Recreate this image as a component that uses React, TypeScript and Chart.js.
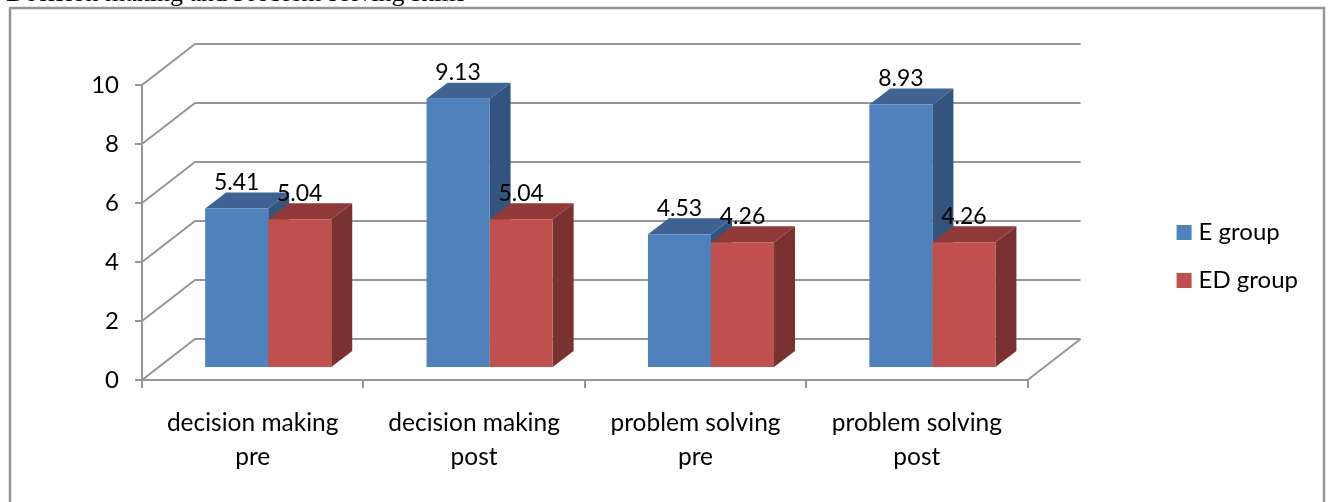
import { useEffect, useRef } from "react";
import { Chart, registerables } from "chart.js";

Chart.register(...registerables);

const caption = "Decision making and Problem solving skills";
const categories = [
  ["decision making", "pre"],
  ["decision making", "post"],
  ["problem solving", "pre"],
  ["problem solving", "post"],
];
const eGroup = [5.41, 9.13, 4.53, 8.93];
const edGroup = [5.04, 5.04, 4.26, 4.26];
const yTicks = [0, 2, 4, 6, 8, 10];

const BLUE = "#4f81bd";
const BLUE_TOP = "#3f6292";
const BLUE_SIDE = "#33547c";
const RED = "#c0504d";
const RED_TOP = "#8f3a38";
const RED_SIDE = "#7a3230";
const GRID = "#969696";
const FONT = "Lato, 'Noto Sans', sans-serif";

// Projection of the pseudo-3D box: wall depth, bar plane offset, bar depth.
const WALL = { dx: 53, dy: -41 };
const PLANE = { dx: 15.5, dy: -12 };
const DEPTH = { dx: 21, dy: -16 };

function poly(ctx: CanvasRenderingContext2D, pts: number[][], fill: string) {
  ctx.fillStyle = fill;
  ctx.beginPath();
  pts.forEach(([x, y], i) => (i ? ctx.lineTo(x, y) : ctx.moveTo(x, y)));
  ctx.closePath();
  ctx.fill();
}

const frame3d = {
  id: "frame3d",
  beforeDraw(chart: any) {
    const { ctx, width, height } = chart;
    const { left, right } = chart.chartArea;
    const y = chart.scales.y;
    ctx.save();
    ctx.fillStyle = "#ffffff";
    ctx.fillRect(0, 0, width, height);

    ctx.fillStyle = "#000000";
    ctx.font = "26px 'Liberation Serif', serif";
    ctx.textBaseline = "alphabetic";
    ctx.fillText(caption, 6, 1);

    // Outer box runs off the bottom edge of the page.
    ctx.strokeStyle = GRID;
    ctx.lineWidth = 2.5;
    ctx.strokeRect(10, 8, 1314, 520);

    // Side wall diagonals and back wall gridlines.
    ctx.lineWidth = 2;
    yTicks.forEach((v) => {
      const py = y.getPixelForValue(v);
      ctx.beginPath();
      ctx.moveTo(left, py);
      ctx.lineTo(left + WALL.dx, py + WALL.dy);
      ctx.lineTo(right + WALL.dx, py + WALL.dy);
      ctx.stroke();
    });
    // Floor edge on the right.
    const y0 = y.getPixelForValue(0);
    ctx.beginPath();
    ctx.moveTo(right, y0);
    ctx.lineTo(right + WALL.dx, y0 + WALL.dy);
    ctx.stroke();
    ctx.restore();
  },
  beforeDatasetsDraw(chart: any) {
    const { ctx } = chart;
    ctx.save();
    ctx.translate(PLANE.dx, PLANE.dy);
    // Blue boxes first, so the red tops fall over the blue side faces.
    [0, 1].forEach((di) => {
      const side = di === 0 ? BLUE_SIDE : RED_SIDE;
      const top = di === 0 ? BLUE_TOP : RED_TOP;
      chart.getDatasetMeta(di).data.forEach((bar: any) => {
        const { x, y, base, width } = bar.getProps(["x", "y", "base", "width"]);
        const l = x - width / 2;
        const r = x + width / 2;
        poly(ctx, [[r, y], [r + DEPTH.dx, y + DEPTH.dy], [r + DEPTH.dx, base + DEPTH.dy], [r, base]], side);
        poly(ctx, [[l, y], [l + DEPTH.dx, y + DEPTH.dy], [r + DEPTH.dx, y + DEPTH.dy], [r, y]], top);
      });
    });
    // Front faces are drawn by the bar controller in this shifted plane.
  },
  afterDatasetsDraw(chart: any) {
    const { ctx } = chart;
    ctx.restore();
    ctx.save();
    ctx.fillStyle = "#000000";
    ctx.font = `23px ${FONT}`;
    ctx.textAlign = "center";
    ctx.textBaseline = "middle";
    chart.data.datasets.forEach((ds: any, di: number) => {
      chart.getDatasetMeta(di).data.forEach((bar: any, i: number) => {
        ctx.fillText(ds.data[i].toFixed(2), bar.x + PLANE.dx, bar.y + PLANE.dy - 26);
      });
    });
    ctx.restore();
  },
};

export default function App() {
  const ref = useRef<HTMLCanvasElement>(null);
  useEffect(() => {
    const chart = new Chart(ref.current!, {
      type: "bar",
      data: {
        labels: categories,
        datasets: [
          { label: "E group", data: eGroup, backgroundColor: BLUE, borderWidth: 0 },
          { label: "ED group", data: edGroup, backgroundColor: RED, borderWidth: 0 },
        ],
      },
      plugins: [frame3d],
      options: {
        animation: false,
        responsive: false,
        layout: { padding: { top: 11, left: 0, right: 21, bottom: 0 } },
        datasets: { bar: { categoryPercentage: 0.5695, barPercentage: 1 } },
        scales: {
          x: {
            afterFit: (s: any) => { s.height = 122; },
            border: { color: GRID, width: 2 },
            grid: { drawOnChartArea: false, color: GRID, lineWidth: 2, tickLength: 8, tickColor: GRID },
            ticks: {
              color: "#000000",
              font: { family: FONT, size: 24.5, lineHeight: 1.35 },
              padding: 19,
              maxRotation: 0,
            },
          },
          // Empty axis that reserves the space above the plot.
          gapTop: {
            type: "category",
            position: "top",
            afterFit: (s: any) => { s.height = 74; },
            border: { display: false },
            grid: { display: false },
            ticks: { display: false },
          },
          y: {
            min: 0,
            max: 10,
            afterFit: (s: any) => { s.width = 142; },
            border: { color: GRID, width: 2 },
            grid: { drawOnChartArea: false, color: GRID, lineWidth: 2, tickLength: 7, tickColor: GRID },
            ticks: { stepSize: 2, color: "#000000", font: { family: FONT, size: 24 }, padding: 16 },
          },
          // Empty axis that keeps the gap between the plot and the legend.
          gap: {
            position: "right",
            afterFit: (s: any) => { s.width = 130; },
            border: { display: false },
            grid: { display: false },
            ticks: { display: false },
          },
        },
        plugins: {
          tooltip: { enabled: false },
          legend: {
            position: "right",
            labels: {
              color: "#000000",
              font: { family: FONT, size: 24 },
              boxWidth: 5,
              boxHeight: 5,
              padding: 24,
              generateLabels: (c: any) =>
                c.data.datasets.map((d: any, i: number) => ({
                  text: d.label,
                  fillStyle: d.backgroundColor,
                  strokeStyle: d.backgroundColor,
                  lineWidth: 10,
                  hidden: false,
                  datasetIndex: i,
                })),
            },
          },
        },
      } as any,
    });
    return () => chart.destroy();
  }, []);
  return (
    <canvas
      ref={ref}
      width={1329}
      height={502}
      style={{ position: "absolute", left: 0, top: 0 }}
    />
  );
}
